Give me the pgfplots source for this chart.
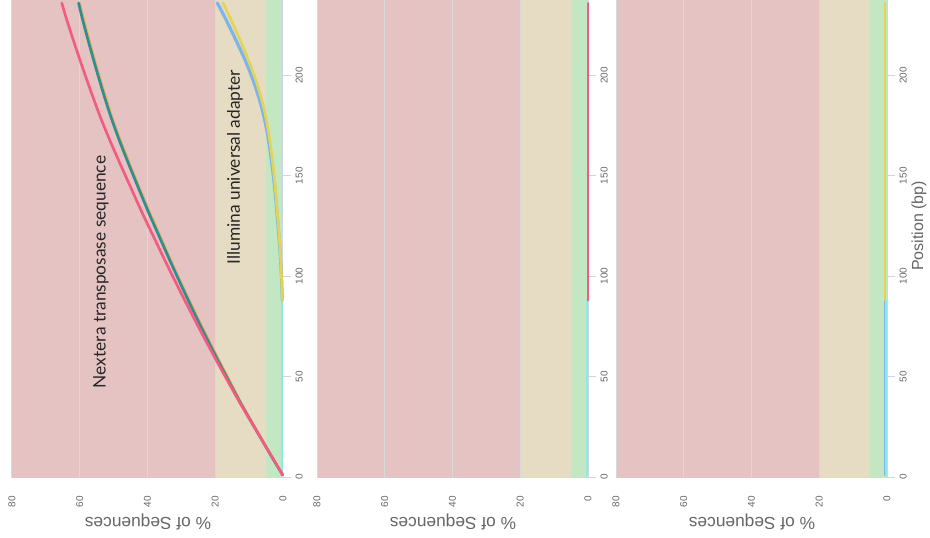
\documentclass[border=0pt]{standalone}
\usepackage{pgfplots}
\pgfplotsset{compat=1.18}
\usepackage{fontspec}
\setmainfont{Liberation Sans}
\newfontfamily\annfont{Lato}
\definecolor{bandred}{HTML}{E6C3C3}
\definecolor{bandbeige}{HTML}{E6DCC3}
\definecolor{bandgreen}{HTML}{C3E6C3}
\definecolor{gridc}{HTML}{D9D9D9}
\definecolor{cred}{HTML}{F15C80}
\definecolor{cteal}{HTML}{2B908F}
\definecolor{corange}{HTML}{F7A35C}
\definecolor{cblue}{HTML}{7CB5EC}
\definecolor{cyellow}{HTML}{E4D354}
\definecolor{ccyan}{HTML}{91E8E1}
\definecolor{axisblue}{HTML}{CCD6EB}
\definecolor{txtgray}{HTML}{666666}

\pgfplotsset{panel/.style={
  width=203.25pt, height=358.5pt, scale only axis,
  anchor=north west,
  xmin=0, xmax=80, x dir=reverse,
  ymin=-0.5, ymax=237.5,
  axis line style={draw=none},
  xtick={0,20,40,60,80},
  ytick={0,50,100,150,200},
  xtick style={draw=none},
  ytick pos=right, yticklabel pos=right,
  tick align=outside,
  major tick length=6pt,
  /pgf/number format/assume math mode=true,
  ytick style={draw=axisblue, line width=0.75pt},
  xticklabel style={rotate=90, anchor=east, font=\fontsize{7.5}{9}\selectfont, text=txtgray, xshift=-4pt},
  yticklabel style={rotate=90, anchor=north, font=\fontsize{7.5}{9}\selectfont, text=txtgray},
  clip=false,
  every axis plot/.append style={line width=2pt, smooth, line cap=round},
  execute at begin axis={
    \fill[bandgreen] (axis cs:0,-0.5) rectangle (axis cs:5,237.5);
    \fill[bandbeige] (axis cs:5,-0.5) rectangle (axis cs:20,237.5);
    \fill[bandred] (axis cs:20,-0.5) rectangle (axis cs:80,237.5);
    \draw[gridc, line width=0.75pt] (axis cs:20,-0.5) -- (axis cs:20,237.5);
    \draw[gridc, line width=0.75pt] (axis cs:40,-0.5) -- (axis cs:40,237.5);
    \draw[gridc, line width=0.75pt] (axis cs:60,-0.5) -- (axis cs:60,237.5);
    \draw[gridc, line width=0.75pt] (axis cs:80,-0.5) -- (axis cs:80,237.5);
    \draw[axisblue, line width=0.75pt] (axis cs:0,-0.5) -- (axis cs:0,237.5);
  },
}}

\begin{document}
\begin{tikzpicture}
\path[use as bounding box] (0pt,0pt) rectangle (697.5pt,-402.75pt);

% Panel 1
\begin{axis}[panel, at={(9pt,0pt)}]
\addplot[ccyan, line width=1.5pt] coordinates {(0.2,1) (0.2,30) (0.2,60) (0.2,88)};
\addplot[cblue, line width=2.4pt] coordinates {
(0.2,88) (0.45,100) (0.85,112) (1.4,124) (2.0,136) (2.7,148) (3.6,160) (4.7,172) (6.3,184) (8.5,196) (11.3,208) (14.6,220) (17.5,230) (19.4,236)};
\addplot[cyellow] coordinates {
(0.2,88) (0.45,100) (0.8,112) (1.3,124) (1.9,136) (2.5,148) (3.3,160) (4.3,172) (5.7,184) (7.7,196) (10.3,208) (13.3,220) (16.0,230) (17.7,236)};
\addplot[corange] coordinates {
(0.1,1) (3.9,12) (8.05,24) (12.1,36) (15.8,48) (19.5,60) (23.1,72) (26.55,84) (29.9,96) (33.15,108) (36.3,120) (39.45,132) (42.4,144) (45.3,156) (48.1,168) (50.65,180) (52.9,192) (55.0,204) (57.0,216) (58.9,228) (60.05,236)};
\addplot[cteal] coordinates {
(0.1,1) (4.0,12) (8.15,24) (12.25,36) (16.1,48) (19.8,60) (23.4,72) (26.85,84) (30.2,96) (33.45,108) (36.6,120) (39.75,132) (42.7,144) (45.6,156) (48.4,168) (50.95,180) (53.2,192) (55.3,204) (57.3,216) (59.2,228) (60.35,236)};
\addplot[cred] coordinates {
(0.1,1) (4.0,12) (8.2,24) (12.4,36) (16.4,48) (20.3,60) (24.1,72) (27.8,84) (31.4,96) (34.9,108) (38.3,120) (41.7,132) (44.9,144) (48.1,156) (51.2,168) (54.1,180) (56.7,192) (59.2,204) (61.6,216) (63.9,228) (65.3,236)};
\end{axis}

% Panel 2
\begin{axis}[panel, at={(237.75pt,0pt)}]
\addplot[ccyan, line width=1.5pt] coordinates {(0.2,1) (0.2,30) (0.2,60) (0.2,88)};
\addplot[cred, line width=1.5pt] coordinates {(0.05,88) (0.05,150) (0.05,236)};
\end{axis}

% Panel 3
\begin{axis}[panel, at={(462pt,0pt)}]
\addplot[cblue, line width=0.8pt] coordinates {(0.8,1) (0.8,40) (0.8,88)};
\addplot[ccyan, line width=1.5pt] coordinates {(0.3,1) (0.3,30) (0.3,60) (0.3,88)};
\addplot[cyellow, line width=1.5pt] coordinates {(0.7,88) (0.7,150) (0.7,236)};
\end{axis}

\begin{scope}[x=0.75pt,y=0.75pt]
\node[rotate=180, text=txtgray, font=\fontsize{13}{15}\selectfont] at (148,-522) {\% of Sequences};
\node[rotate=180, text=txtgray, font=\fontsize{13}{15}\selectfont] at (453,-522) {\% of Sequences};
\node[rotate=180, text=txtgray, font=\fontsize{13}{15}\selectfont] at (752,-522) {\% of Sequences};
\node[rotate=90, text=txtgray, font=\fontsize{12}{14}\selectfont] at (919,-226) {Position (bp)};
\node[rotate=90, text=black!85, font=\annfont\fontsize{13}{15}\selectfont] at (101,-272) {Nextera transposase sequence};
\node[rotate=90, text=black!85, font=\annfont\fontsize{13}{15}\selectfont] at (235,-167) {Illumina universal adapter};
\end{scope}
\end{tikzpicture}
\end{document}
